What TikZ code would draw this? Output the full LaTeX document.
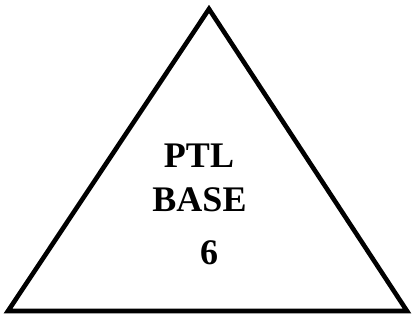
\documentclass[tikz,border=0pt]{standalone}
\usepackage{fontspec}
\setmainfont{Liberation Serif}
\usetikzlibrary{positioning}
\tikzset{label/.style={font=\fontsize{36}{40}\selectfont\bfseries, anchor=base, inner sep=0pt}}
\begin{document}
\begin{tikzpicture}[x=1pt, y=1pt]
		\useasboundingbox (0,0) rectangle (412,321);
		\coordinate (Left) at (8,10);
		\coordinate (Right) at (407,10);
		\coordinate (Top) at (209,312);
		\draw[line width=4.6pt, line join=miter] (Left) -- (Right) -- (Top) -- cycle;

		\node (Ptl) [label] at (199,153) {PTL};
		\node (Base) [label] at (199.5,109) {BASE};
		\node (Six) [label] at (209,56) {6};
\end{tikzpicture}
\end{document}
